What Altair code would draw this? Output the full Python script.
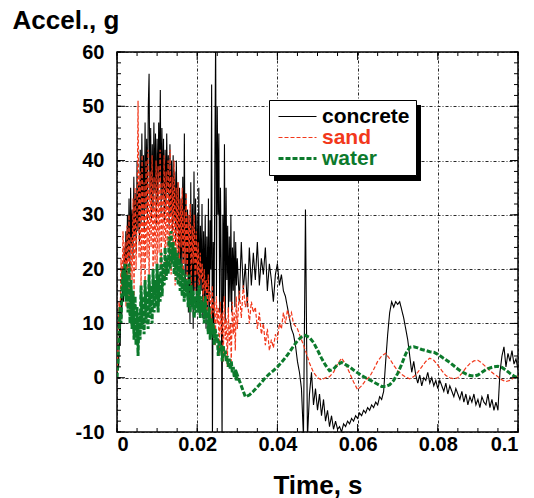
import altair as alt
import pandas as pd


def grid(start, step, n):
    return [round(start + i * step, 6) for i in range(n)]


series_names = ["concrete", "sand", "water"]
series_colors = ["#000000", "#f2381b", "#0c7a2c"]
series_widths = [1.1, 1.2, 3]
series_dashes = [[1, 0], [4, 2], [5, 2]]

# ---- concrete (black, solid) ----
concrete_t = grid(0.0, 0.0002, 150) + grid(0.03, 0.0005, 141)
concrete_v = [
    0, 4, 2, 9, 6, 15, 11, 20, 14, 24,
    17, 27, 19, 30, 22, 33, 20, 35, 24, 31,
    22, 37, 26, 34, 23, 40, 27, 36, 25, 42,
    28, 45, 30, 41, 27, 47, 31, 44, 29, 50,
    56, 33, 46, 29, 43, 31, 47, 34, 45, 28,
    44, 32, 47, 36, 53, 30, 46, 33, 44, 29,
    42, 31, 45, 34, 41, 28, 43, 30, 40, 27,
    41, 29, 38, 25, 40, 27, 36, 22, 35, 20,
    33, 18, 37, 21, 45, 16, 34, 19, 31, 12,
    30, 10, 36, 14, 32, 9, 38, 16, 33, 13,
    30, 15, 35, 12, 28, 16, 32, 11, 27, 14,
    30, 9, 26, 13, 33, 8, 29, 20, 54, -12,
    25, 10, 40, 63, 15, 50, 30, 45, 12, 35,
    20, -12, 30, 14, 43, 10, 35, 18, 28, 12,
    26, 14, 30, 12, 24, 16, 27, 13, 25, 17,
    # from 0.030 s, every 0.0005 s
    22, 14, 25, 16, 21, 13, 24, 17, 23, 18,
    25, 17, 22, 19, 24, 16, 21, 18, 14, 19,
    21, 17, 19, 16, 15, 13, 11, 9, 8, 6,
    3, 1, -2, -11, 31, -11, -3, 1, -5, -2,
    -6, -3, -7, -4, -8, -6, -9, -7, -9.5, -8,
    -9.5, -9, -10, -8.5, -9, -8, -8.5, -7.5, -8, -7,
    -7.5, -6.5, -7, -6, -6.5, -5.5, -6, -5, -5.5, -4.5,
    -5, -3.5, -4, -2.5, 3, 8, 12, 14, 13, 14,
    13.5, 14, 12.5, 11, 9, 7, 4, 1, 3, 0.5,
    -1, 0.5, -1.5, 0, -0.5, 1, -1, 0, -1.5, -0.5,
    -2, -0.5, -1.5, -2.5, -1, -3, -1.5, -2.5, -3.5, -2,
    -3, -4, -2.5, -4.5, -3, -5, -3.5, -4.5, -3, -5,
    -4, -5.5, -3.5, -4.5, -5, -3, -5.5, -4, -6, -4.5,
    -6, 1, 4, 5.7, 2, 4.5, 3, 5, 2.5, 3.5,
    1.5,
]

# ---- sand (red, thin dashed) ----
sand_t = grid(0.0, 0.00025, 120) + grid(0.03, 0.0005, 30) + grid(0.045, 0.001, 56)
sand_v = [
    0, 6, 14, 10, 22, 16, 27, 18, 25, 13,
    28, 15, 30, 12, 26, 18, 33, 15, 35, 20,
    30, 51, 22, 38, 16, 41, 20, 36, 15, 40,
    22, 42, 18, 38, 24, 41, 17, 37, 21, 40,
    19, 39, 23, 42, 20, 36, 25, 41, 18, 38,
    24, 40, 21, 42, 19, 37, 23, 40, 17, 35,
    22, 36, 18, 33, 24, 35, 17, 31, 21, 34,
    18, 30, 23, 32, 17, 28, 21, 30, 16, 27,
    19, 25, 15, 23, 18, 21, 13, 20, 16, 18,
    11, 19, 14, 16, 8, 17, 12, 14, 6, 15,
    10, 13, 4, 14, 8, 12, 3, 15, 7, 11,
    2, 13, 6, 10, 3, 14, 8, 12, 5, 15,
    # from 0.030 s, every 0.0005 s
    9, 16, 11, 17, 13, 15, 10, 14, 12, 13,
    9, 12, 8, 10, 6, 9, 5, 7, 5.5, 8,
    7, 10, 9, 12, 10, 12.5, 11, 12, 10, 9.5,
    # from 0.045 s, every 0.001 s
    9, 7, 5, 2.7, 1, 0, -0.4, 0, 0.2, 1,
    2.5, 3.6, 2.5, 0.9, -0.8, -2.2, -1.5, -0.5, 0.2, 1.5,
    3, 4, 4.5, 3.5, 2.3, 1.3, 0.6, 0.1, -0.2, 0.2,
    1, 2, 3, 3.6, 3.2, 2.3, 1.3, 0.4, 0, -0.2,
    0, 0.8, 1.8, 2.6, 3.1, 3.2, 2.7, 2, 1.3, 0.7,
    0.2, -0.4, -0.7, -0.5, 0, 0.3,
]

# ---- water (green, thick dashed) ----
water_t = grid(0.0, 0.00025, 120) + grid(0.03, 0.001, 71)
water_v = [
    0, 3, 8, 13, 10, 17, 20, 15, 21, 14,
    19, 12, 21, 10, 18, 9, 16, 7, 15, 6,
    13, 4, 12, 7, 17, 9, 15, 8, 18, 10,
    16, 9, 19, 11, 17, 10, 20, 12, 18, 13,
    21, 12, 19, 14, 23, 15, 21, 17, 24, 18,
    22, 19, 26, 20, 27, 21, 25, 19, 24, 18,
    23, 17, 22, 16, 21, 15, 20, 14, 19, 15,
    18, 13, 19, 12, 17, 13, 16, 11, 15, 12,
    16, 12, 17, 11, 15, 12, 14, 10, 15, 11,
    12, 8, 13, 7, 11, 8, 10, 6, 9, 7,
    8, 4, 7, 5, 6, 3, 6, 4, 5, 3,
    4, 2, 3.5, 1.5, 3, 1, 2, 0, 1.5, -0.5,
    # from 0.030 s, every 0.001 s
    0.5, -1.5, -3.5, -3.2, -2.5, -1.7, -0.9, 0, 0.7, 1.3,
    2, 2.8, 3.7, 4.7, 5.8, 6.8, 7.5, 7.8, 7.4, 6.5,
    5.1, 3.6, 2.3, 1.3, 1.6, 2.4, 2.8, 2.4, 2, 1.4,
    0.9, 0.4, 0, -0.4, -0.8, -1.2, -1.6, -1.6, -1.3, -0.5,
    0.8, 2.5, 4.4, 5.6, 5.7, 5.5, 5.2, 5, 4.8, 4.7,
    4.3, 3.8, 3.3, 2.8, 2.2, 1.6, 1.1, 0.7, 0.4, 0.3,
    0.5, 1, 1.5, 1.8, 2, 2.1, 1.9, 1.4, 0.8, 0.3,
    0,
]

# axis tick positions
x_major = [0, 0.02, 0.04, 0.06, 0.08, 0.1]
y_major = [-10, 0, 10, 20, 30, 40, 50, 60]
x_minor = grid(0.0, 0.005, 21)
y_minor = grid(-10, 2, 36)

rows = []
for name, ts, vs in [("concrete", concrete_t, concrete_v),
                     ("sand", sand_t, sand_v),
                     ("water", water_t, water_v)]:
    for t, v in zip(ts, vs):
        rows.append({"time": t, "accel": v, "series": name})
df = pd.DataFrame(rows)

FONT = "Liberation Sans"
W, H = 401, 380

xs = alt.Scale(domain=[0, 0.1], nice=False, zero=False)
ys = alt.Scale(domain=[-10, 60], nice=False, zero=False)


def by_series(values):
    return "datum.value == 'sand' ? %r : (datum.value == 'water' ? %r : %r)" % (
        values[1], values[2], values[0])


legend = alt.Legend(
    title=None,
    orient="none",
    legendX=152,
    legendY=48,
    fillColor="white",
    strokeColor="black",
    padding=6,
    symbolType="M-2,0L2,0",
    symbolSize=361,
    symbolOffset=12,
    symbolStrokeWidth={"expr": by_series(series_widths)},
    labelFont=FONT,
    labelFontSize=21,
    labelFontWeight="bold",
    labelOffset=14,
    rowPadding=-2,
    labelColor={"expr": by_series(series_colors)},
)

x_axis = alt.Axis(values=x_major, title="Time, s",
                  labelExpr="format(datum.value, '.2~f')",
                  grid=True, ticks=False, domain=False,
                  labelPadding=2, titleY=61, titleBaseline="alphabetic")
y_axis = alt.Axis(values=y_major, title="Accel., g",
                  labelExpr="'' + datum.value",
                  grid=True, ticks=False, domain=False,
                  labelPadding=13, titleAngle=0,
                  titleAlign="left", titleBaseline="alphabetic",
                  titleX=-105, titleY=-24)


def series_layer(name, width):
    return alt.Chart(df).transform_filter(
        alt.datum.series == name
    ).mark_line(clip=True, strokeWidth=width).encode(
        x=alt.X("time:Q", scale=xs, axis=x_axis),
        y=alt.Y("accel:Q", scale=ys, axis=y_axis),
        color=alt.Color("series:N",
                        scale=alt.Scale(domain=series_names, range=series_colors),
                        legend=legend),
        strokeDash=alt.StrokeDash("series:N",
                                  scale=alt.Scale(domain=series_names,
                                                  range=series_dashes),
                                  legend=legend),
    )


line_layers = [series_layer(n, w) for n, w in zip(series_names, series_widths)]

xmin_df = pd.DataFrame({"time": x_minor})
xmaj_df = pd.DataFrame({"time": x_major})
ymin_df = pd.DataFrame({"accel": y_minor})
ymaj_df = pd.DataFrame({"accel": y_major})


def xticks(d, ln):
    base = alt.Chart(d).mark_rule(color="black", strokeWidth=1)
    bottom = base.encode(x=alt.X("time:Q", scale=xs),
                         y=alt.value(H), y2=alt.value(H - ln))
    top = base.encode(x=alt.X("time:Q", scale=xs),
                      y=alt.value(0), y2=alt.value(ln))
    return [bottom, top]


def yticks(d, ln):
    base = alt.Chart(d).mark_rule(color="black", strokeWidth=1)
    left = base.encode(y=alt.Y("accel:Q", scale=ys),
                       x=alt.value(0), x2=alt.value(ln))
    right = base.encode(y=alt.Y("accel:Q", scale=ys),
                        x=alt.value(W), x2=alt.value(W - ln))
    return [left, right]


# drop shadow behind the legend box
shadow = alt.Chart(pd.DataFrame({"k": [0]})).mark_rect(color="black").encode(
    x=alt.value(157), x2=alt.value(304), y=alt.value(53), y2=alt.value(129)
)

layers = line_layers + xticks(xmin_df, 4) + xticks(xmaj_df, 8) + \
    yticks(ymin_df, 4) + yticks(ymaj_df, 8) + [shadow]

chart = alt.layer(*layers).properties(
    width=W, height=H,
    padding={"left": 117, "top": 52, "right": 16, "bottom": 66},
    autosize=alt.AutoSizeParams(type="none"),
    background="white",
).configure_view(
    stroke="black", strokeWidth=1.5
).configure_axis(
    labelFont=FONT, labelFontSize=20, labelFontWeight="bold",
    labelColor="black",
    titleFont=FONT, titleFontSize=26, titleFontWeight="bold",
    titleColor="black",
    gridColor="#111111", gridDash=[3, 2, 1, 2], gridWidth=1, gridOpacity=0.9,
)

chart.save("out.html", embed_options={"renderer": "svg", "actions": False})
